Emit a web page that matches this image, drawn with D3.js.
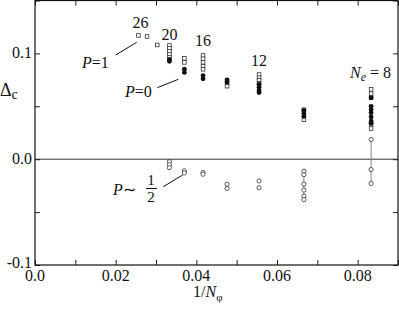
<!DOCTYPE html>
<html>
<head>
<meta charset="utf-8">
<script src="https://cdn.jsdelivr.net/npm/d3@7"></script>
<style>
  body { margin: 0; background: #fff; }
</style>
</head>
<body>
<svg id="chart" width="399" height="309"></svg>
<script>
  // N_phi of each cluster (x = 1/N_phi)
  var nPhi = [12, 15, 18, 21, 24, 27, 30, 33, 36, 39];

  // P = 1 (open squares)
  var pOneValues = [
    [0.066, 0.062, 0.058, 0.033, 0.029],
    [0.0467, 0.0373],
    [0.080, 0.077, 0.0745, 0.0717],
    [0.072, 0.069],
    [0.098, 0.095, 0.0915, 0.088, 0.085],
    [0.0953, 0.0915],
    [0.1075, 0.1047, 0.1019, 0.099, 0.0962],
    [0.108],
    [0.116],
    [0.117]
  ];

  // P = 0 (filled circles)
  var pZeroValues = [
    [0.058, 0.050, 0.047, 0.044, 0.040, 0.036, 0.034],
    [0.0462, 0.0434, 0.0406],
    [0.0708, 0.068, 0.065, 0.063],
    [0.075, 0.073],
    [0.079, 0.076],
    [0.085, 0.082],
    [0.0943, 0.0925],
    [], [], []
  ];

  // P ~ 1/2 (open circles)
  var pHalfValues = [
    [0.0186, -0.0098, -0.023],
    [-0.0113, -0.0146, -0.0236, -0.0292, -0.0349, -0.0382],
    [-0.0205, -0.027],
    [-0.0236, -0.0277],
    [-0.0125, -0.0142],
    [-0.011, -0.013],
    [-0.0024, -0.0052, -0.008],
    [], [], []
  ];

  // size labels over the columns: [N_e, N_phi]
  var sizeLabels = [[26, 39], [20, 30], [16, 24], [12, 18]];

  var xTicks = [0, 0.02, 0.04, 0.06, 0.08];
  var yTicks = [-0.1, 0, 0.1];

  (function() {
    var svg = d3.select('#chart');
    var mLeft = 35, mRight = 398, mTop = 0.5, mBottom = 265;

    var x = d3.scaleLinear().domain([0, 0.09]).range([mLeft, mRight]);
    var y = d3.scaleLinear().domain([-0.1, 0.15]).range([mBottom, mTop]);

    // all texts are made here; generic serif face set both ways
    function label(parent, size) {
      return parent.append('text')
        .attr('font-family', 'serif')
        .attr('font-size', size)
        .style('font-family', 'serif')
        .style('font-size', size + 'px')
        .attr('fill', '#111');
    }

    function flat(values) {
      var out = [];
      values.forEach(function(vs, i) {
        vs.forEach(function(v) { out.push({x: 1 / nPhi[i], y: v}); });
      });
      return out;
    }

    // zero line
    svg.append('line')
      .attr('x1', mLeft).attr('x2', mRight)
      .attr('y1', y(0)).attr('y2', y(0))
      .attr('stroke', '#333').attr('stroke-width', 1);

    // inward ticks on all four sides
    var minorX = d3.range(0, 0.0901, 0.01);
    var minorY = d3.range(-0.1, 0.151, 0.05);
    function noDomain(g) { g.select('.domain').remove(); }

    svg.append('g')
      .attr('transform', 'translate(0,' + mBottom + ')')
      .call(d3.axisBottom(x).tickValues(minorX).tickSize(-5).tickFormat(''))
      .call(noDomain);
    svg.append('g')
      .attr('transform', 'translate(0,' + mTop + ')')
      .call(d3.axisTop(x).tickValues(minorX).tickSize(-5).tickFormat(''))
      .call(noDomain);
    svg.append('g')
      .attr('transform', 'translate(' + mLeft + ',0)')
      .call(d3.axisLeft(y).tickValues(minorY).tickSize(-5).tickFormat(''))
      .call(noDomain);
    svg.append('g')
      .attr('transform', 'translate(' + mRight + ',0)')
      .call(d3.axisRight(y).tickValues(minorY).tickSize(-5).tickFormat(''))
      .call(noDomain);

    svg.selectAll('g.tick line').attr('stroke', '#222');

    // frame
    svg.append('rect')
      .attr('x', mLeft).attr('y', mTop)
      .attr('width', mRight - mLeft).attr('height', mBottom - mTop)
      .attr('fill', 'none').attr('stroke', '#111').attr('stroke-width', 1.2);

    // tick labels
    xTicks.forEach(function(d) {
      label(svg, 16)
        .attr('x', x(d))
        .attr('y', mBottom + 16)
        .attr('text-anchor', 'middle')
        .text(d === 0 ? '0.0' : d3.format('.2f')(d));
    });

    yTicks.forEach(function(d) {
      label(svg, 16)
        .attr('x', 32)
        .attr('y', y(d) + (d === -0.1 ? 3 : 5))
        .attr('text-anchor', 'end')
        .text(d3.format('.1f')(d).replace('\u2212', '-'));
    });

    // axis titles
    var xt = label(svg, 16).attr('x', 193).attr('y', 297);
    xt.append('tspan').text('1/');
    xt.append('tspan').style('font-style', 'italic').text('N');
    xt.append('tspan').attr('dy', 4).style('font-size', '11px').text('\u03c6');

    var yt = label(svg, 18).attr('x', 0).attr('y', 96);
    yt.append('tspan').text('\u0394');
    yt.append('tspan').attr('dy', 3).style('font-size', '14px').text('c');

    // vertical connectors for P ~ 1/2 at 1/15 and 1/12
    [0, 1].forEach(function(i) {
      var ext = d3.extent(pHalfValues[i]);
      svg.append('line')
        .attr('x1', x(1 / nPhi[i])).attr('x2', x(1 / nPhi[i]))
        .attr('y1', y(ext[1])).attr('y2', y(ext[0]))
        .attr('stroke', '#888').attr('stroke-width', 1);
    });

    // marks
    var sq = 3.6;
    svg.append('g').selectAll('rect').data(flat(pOneValues)).enter().append('rect')
      .attr('x', function(d) { return x(d.x) - sq / 2; })
      .attr('y', function(d) { return y(d.y) - sq / 2; })
      .attr('width', sq).attr('height', sq)
      .attr('fill', '#fff').attr('stroke', '#333').attr('stroke-width', 0.8);

    svg.append('g').selectAll('circle').data(flat(pZeroValues)).enter().append('circle')
      .attr('cx', function(d) { return x(d.x); })
      .attr('cy', function(d) { return y(d.y); })
      .attr('r', 2.4)
      .attr('fill', '#111');

    svg.append('g').selectAll('circle').data(flat(pHalfValues)).enter().append('circle')
      .attr('cx', function(d) { return x(d.x); })
      .attr('cy', function(d) { return y(d.y); })
      .attr('r', 2.1)
      .attr('fill', '#fff').attr('stroke', '#333').attr('stroke-width', 0.8);

    // size labels
    var labelY = { 26: 28, 20: 40, 16: 46, 12: 66 };
    sizeLabels.forEach(function(d) {
      label(svg, 16)
        .attr('x', x(1 / d[1]) + (d[0] === 26 ? 2 : 0))
        .attr('y', labelY[d[0]])
        .attr('text-anchor', 'middle')
        .text(d[0]);
    });

    var ne = label(svg, 16).attr('x', 350).attr('y', 78);
    ne.append('tspan').style('font-style', 'italic').text('N');
    ne.append('tspan').attr('dy', 3).style('font-size', '12px').style('font-style', 'italic').text('e');
    ne.append('tspan').attr('dy', -3).text(' = 8');

    // series labels with leader lines
    function pLabel(xp, yp, rest) {
      var t = label(svg, 16).attr('x', xp).attr('y', yp);
      t.append('tspan').style('font-style', 'italic').text('P');
      t.append('tspan').text(rest);
      return t;
    }
    pLabel(82, 68, '=1');
    pLabel(125, 97, '=0');
    pLabel(113, 195, '\u223c');

    label(svg, 15).attr('x', 151).attr('y', 185).attr('text-anchor', 'middle').text('1');
    svg.append('line').attr('x1', 146).attr('x2', 157).attr('y1', 188.5).attr('y2', 188.5)
      .attr('stroke', '#111').attr('stroke-width', 1);
    label(svg, 15).attr('x', 151).attr('y', 202).attr('text-anchor', 'middle').text('2');

    var leaders = [
      [115.7, 55, 136.7, 42.3],
      [157.3, 87.7, 178.3, 79.3],
      [163.3, 186.7, 182.7, 175]
    ];
    svg.append('g').selectAll('line').data(leaders).enter().append('line')
      .attr('x1', function(d) { return d[0]; }).attr('y1', function(d) { return d[1]; })
      .attr('x2', function(d) { return d[2]; }).attr('y2', function(d) { return d[3]; })
      .attr('stroke', '#111').attr('stroke-width', 1);
  })();
</script>
</body>
</html>
